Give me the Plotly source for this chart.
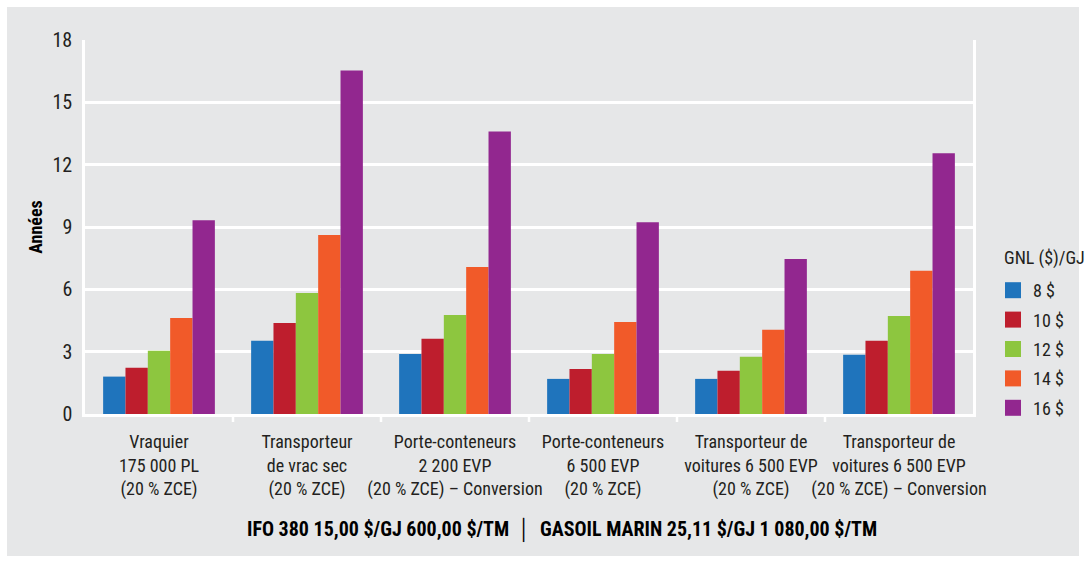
import plotly.graph_objects as go

# Navires (catégories de l'axe x)
categories = [
    "Vraquier<br>175 000 PL<br>(20 % ZCE)",
    "Transporteur<br>de vrac sec<br>(20 % ZCE)",
    "Porte-conteneurs<br>2 200 EVP<br>(20 % ZCE) – Conversion",
    "Porte-conteneurs<br>6 500 EVP<br>(20 % ZCE)",
    "Transporteur de<br>voitures 6 500 EVP<br>(20 % ZCE)",
    "Transporteur de<br>voitures 6 500 EVP<br>(20 % ZCE) – Conversion",
]

# Délai de récupération (années) selon le prix du GNL
gnl_8 = [1.80, 3.52, 2.89, 1.69, 1.69, 2.85]
gnl_10 = [2.22, 4.38, 3.62, 2.17, 2.08, 3.52]
gnl_12 = [3.04, 5.82, 4.77, 2.89, 2.76, 4.72]
gnl_14 = [4.62, 8.61, 7.08, 4.43, 4.05, 6.89]
gnl_16 = [9.33, 16.53, 13.60, 9.23, 7.46, 12.55]

series_names = ["8 $", "10 $", "12 $", "14 $", "16 $"]
series_values = [gnl_8, gnl_10, gnl_12, gnl_14, gnl_16]
series_colors = ["#1f74bc", "#be1e2d", "#8dc63f", "#f15a29", "#92278f"]

y_ticks = [0, 3, 6, 9, 12, 15, 18]

FONT = "Roboto Condensed, Liberation Sans Narrow, Roboto, sans-serif"
BG = "#e6e7e8"
TEXT = "#231f20"

fig = go.Figure()

for name, vals, col in zip(series_names, series_values, series_colors):
    fig.add_trace(go.Bar(
        x=categories, y=vals, name=name, marker=dict(color=col, line=dict(width=0)),
        showlegend=False, legendgroup=name,
    ))

# Légende : carrés plus grands que les icônes par défaut des barres
for name, col in zip(series_names, series_colors):
    fig.add_trace(go.Scatter(
        x=[None], y=[None], mode="markers", name=name, legendgroup=name,
        marker=dict(symbol="square", size=16, color=col),
    ))

W, H = 1086, 563
ml, mr, mt, mb = 85, 113, 40, 149
pw, ph = W - ml - mr, H - mt - mb

fig.update_layout(
    width=W, height=H,
    margin=dict(l=ml, r=mr, t=mt, b=mb, pad=0, autoexpand=False),
    paper_bgcolor=BG, plot_bgcolor=BG,
    font=dict(family=FONT, color=TEXT, size=18),
    barmode="group", bargap=0.245, bargroupgap=0,
    xaxis=dict(
        type="category", showgrid=False, showline=True, linecolor="white", linewidth=2.5,
        ticks="", tickangle=0, automargin=False, ticklabelstandoff=10,
        tickfont=dict(size=18, color=TEXT), fixedrange=True,
    ),
    yaxis=dict(
        range=[0, 18], tickvals=y_ticks, showgrid=True, gridcolor="white", gridwidth=2.5,
        showline=True, linecolor="white", linewidth=2.5, mirror=True, zeroline=False,
        ticks="", ticklabelstandoff=6, tickfont=dict(size=20, color=TEXT), automargin=False,
        title=dict(text="<b>Années</b>", font=dict(size=18, color="#000000"), standoff=6),
    ),
    legend=dict(
        x=(993 - ml) / pw, y=1 - (272 - mt) / ph, xanchor="left", yanchor="top",
        bgcolor="rgba(0,0,0,0)", font=dict(size=18, color=TEXT),
        tracegroupgap=3, itemwidth=30,
    ),
    showlegend=True,
)

# Repères blancs entre les catégories, sous l'axe x
for i in range(len(categories) - 1):
    fig.add_shape(
        type="line", xref="x", yref="paper", x0=i + 0.5, x1=i + 0.5, y0=0, y1=-8 / ph,
        line=dict(color="white", width=2.5), layer="above",
    )

# Titre de la légende
fig.add_annotation(
    text="GNL ($)/GJ", xref="paper", yref="paper",
    x=(1002 - ml) / pw, y=1 - (258 - mt) / ph, xanchor="left", yanchor="middle",
    showarrow=False, font=dict(size=18, color=TEXT, family=FONT),
)

# Cadre blanc autour du fond gris
fig.add_shape(
    type="rect", xref="paper", yref="paper",
    x0=-ml / pw, x1=1 + mr / pw, y0=-mb / ph, y1=1 + mt / ph,
    line=dict(color="white", width=14), fillcolor="rgba(0,0,0,0)", layer="above",
)

fig.add_annotation(
    text="<b>IFO 380 15,00 $/GJ 600,00 $/TM  \u2502  GASOIL MARIN 25,11 $/GJ 1 080,00 $/TM</b>",
    xref="paper", yref="paper", x=(562 - ml) / pw, y=-(530 - mt - ph) / ph,
    xanchor="center", yanchor="middle", showarrow=False,
    font=dict(size=20, color="#000000", family=FONT),
)

fig.write_html("out.html")
